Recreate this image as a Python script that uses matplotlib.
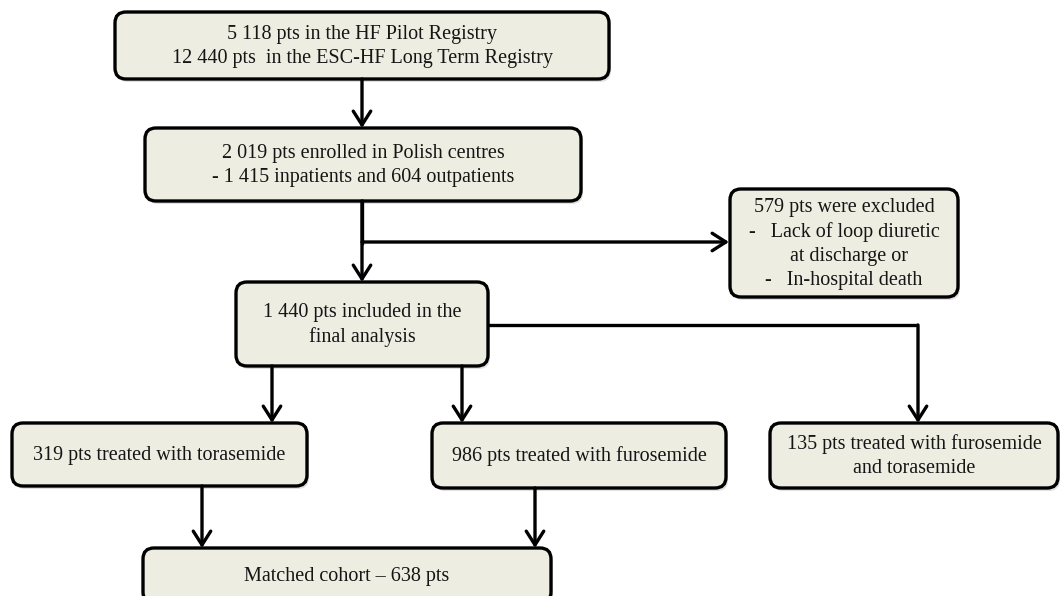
import matplotlib.pyplot as plt
from matplotlib.patches import FancyBboxPatch

# box texts of the flow chart
labels = [
    "5 118 pts in the HF Pilot Registry\n12 440 pts  in the ESC-HF Long Term Registry",
    "2 019 pts enrolled in Polish centres\n- 1 415 inpatients and 604 outpatients",
    "579 pts were excluded\n-   Lack of loop diuretic\n  at discharge or\n-   In-hospital death",
    "1 440 pts included in the\nfinal analysis",
    "319 pts treated with torasemide",
    "986 pts treated with furosemide",
    "135 pts treated with furosemide\nand torasemide",
    "Matched cohort \u2013 638 pts",
]

# layout in pixels (x0, y0, x1, y1), y downwards
boxes = [
    (115, 12, 609, 79),
    (145, 128, 581, 201),
    (730, 189, 958, 297),
    (236, 282, 488, 366),
    (12, 423, 307, 486),
    (432, 423, 726, 488),
    (770, 423, 1058, 488),
    (143, 548, 551, 603),
]

fill = "#eeede2"
lw = 2.4

fig = plt.figure(figsize=(10.61, 5.96), dpi=100)
ax = fig.add_axes([0, 0, 1, 1])
ax.set_xlim(0, 1061)
ax.set_ylim(596, 0)
ax.axis("off")

for (x0, y0, x1, y1), txt in zip(boxes, labels):
    # soft shadow
    sh = FancyBboxPatch((x0 + 2, y0 + 3), x1 - x0, y1 - y0,
                        boxstyle="round,pad=0,rounding_size=11",
                        fc="#000000", ec="none", alpha=0.12, zorder=1)
    ax.add_patch(sh)
    p = FancyBboxPatch((x0, y0), x1 - x0, y1 - y0,
                       boxstyle="round,pad=0,rounding_size=11",
                       fc=fill, ec="black", lw=lw, zorder=2)
    ax.add_patch(p)
    ax.text((x0 + x1) / 2, (y0 + y1) / 2 + 1, txt, ha="center", va="center",
            multialignment="center", family="Liberation Serif", fontsize=14.5,
            color="#151515", linespacing=1.36, zorder=3)


def arrow(pts):
    xs = [p[0] for p in pts]
    ys = [p[1] for p in pts]
    if len(pts) > 2:
        ax.plot(xs[:-1], ys[:-1], color="black", lw=lw, solid_capstyle="butt",
                solid_joinstyle="miter", zorder=2)
    ax.annotate("", xy=pts[-1], xytext=pts[-2],
                arrowprops=dict(arrowstyle="->,head_length=0.55,head_width=0.35",
                                lw=lw, color="black", mutation_scale=18,
                                shrinkA=0, shrinkB=0), zorder=2)


arrow([(362, 79), (362, 128)])
arrow([(362, 201), (362, 282)])
ax.plot([362, 362], [201, 243], color="black", lw=lw, zorder=2)
arrow([(362, 242), (729, 242)])
arrow([(488, 325), (918, 325), (918, 423)])
arrow([(272, 366), (272, 423)])
arrow([(462, 366), (462, 423)])
arrow([(202, 486), (202, 548)])
arrow([(535, 488), (535, 548)])

fig.savefig("out.png", dpi=100)
